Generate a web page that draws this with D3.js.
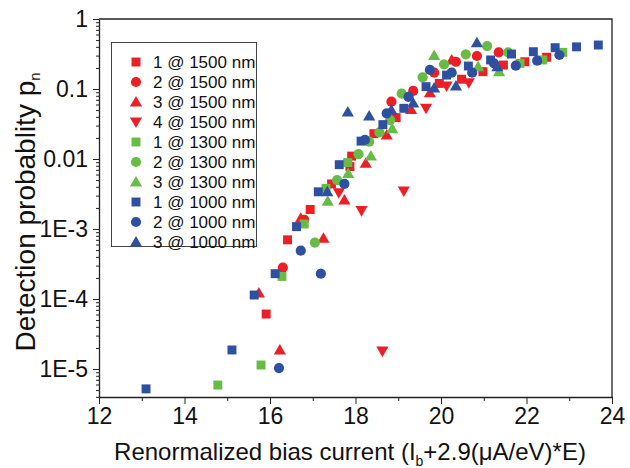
<!DOCTYPE html>
<html>
<head>
<meta charset="utf-8">
<script src="https://cdn.jsdelivr.net/npm/d3@7"></script>
<style>
    body { margin: 0; background: #fff; }
    svg { font-family: "Liberation Sans", Arial, sans-serif; }
</style>
</head>
<body>
<div id="chart"></div>
<script>
// series: [renormalized bias current, detection probability]
var sq1500 = [[15.91, 6.1e-5], [16.41, 7.0e-4], [16.94, 1.9e-3], [17.44, 4.4e-3], [17.87, 7.8e-3], [17.91, 0.011],
    [18.43, 0.023], [18.95, 0.039], [19.96, 0.12], [20.48, 0.138], [20.98, 0.177], [21.46, 0.22], [21.96, 0.245], [22.47, 0.284]];
var ci1500 = [[16.30, 2.8e-4], [16.80, 1.35e-3], [18.84, 0.066], [19.35, 0.094], [19.84, 0.171], [20.35, 0.245],
    [20.84, 0.296], [21.35, 0.334]];
var tr1500 = [[15.74, 1.22e-4], [16.23, 1.87e-5], [16.72, 1.42e-3], [17.25, 7.4e-4], [17.74, 2.6e-3], [18.24, 8.7e-3],
    [18.73, 0.022], [19.30, 0.051], [19.74, 0.0885], [20.25, 0.26]];
var dn1500 = [[17.61, 3.3e-3], [18.14, 1.83e-3], [18.63, 1.8e-5], [19.13, 3.5e-3], [19.65, 0.053], [20.13, 0.11], [20.65, 0.123]];
var sq1300 = [[14.78, 5.9e-6], [15.79, 1.14e-5], [16.28, 2.1e-4], [16.80, 1.18e-3], [17.31, 3.8e-3], [17.82, 8.9e-3],
    [21.85, 0.233], [22.38, 0.26], [22.85, 0.334]];
var ci1300 = [[17.05, 6.4e-4], [17.57, 5.0e-3], [18.07, 0.0117], [18.32, 0.0177], [18.56, 0.024], [18.81, 0.036],
    [19.08, 0.086], [19.57, 0.147], [20.07, 0.225], [20.58, 0.313], [21.08, 0.41], [21.57, 0.334]];
var tr1300 = [[17.35, 2.5e-3], [17.83, 6.2e-3], [18.36, 0.011], [18.86, 0.027], [19.84, 0.30], [20.87, 0.208], [21.36, 0.177]];
var sq1000 = [[13.10, 5.2e-6], [15.11, 1.87e-5], [15.63, 1.14e-4], [16.12, 2.3e-4], [16.62, 1.08e-3], [17.13, 3.4e-3],
    [17.62, 8.3e-3], [18.13, 0.018], [18.64, 0.031], [19.13, 0.053], [19.65, 0.108], [20.13, 0.158], [20.64, 0.213],
    [21.16, 0.26], [21.65, 0.316], [22.16, 0.341], [22.67, 0.389], [23.17, 0.40], [23.68, 0.425]];
var ci1000 = [[16.21, 1.03e-5], [16.72, 4.9e-4], [17.19, 2.3e-4], [17.74, 4.4e-3], [18.22, 0.0187], [18.73, 0.045],
    [19.24, 0.077], [19.74, 0.187], [20.25, 0.171], [20.73, 0.171], [21.24, 0.233], [21.75, 0.215], [22.25, 0.254], [22.77, 0.306]];
var tr1000 = [[17.34, 3.4e-3], [17.82, 0.047], [18.32, 0.041], [18.84, 0.050], [19.35, 0.063], [19.84, 0.103],
    [20.35, 0.110], [20.84, 0.458], [21.32, 0.208]];

var legendNames = ['1 @ 1500 nm', '2 @ 1500 nm', '3 @ 1500 nm', '4 @ 1500 nm', '1 @ 1300 nm', '2 @ 1300 nm',
    '3 @ 1300 nm', '1 @ 1000 nm', '2 @ 1000 nm', '3 @ 1000 nm'];
var xTicks = [12, 14, 16, 18, 20, 22, 24];
var yTicks = [1, 0.1, 0.01, 1e-3, 1e-4, 1e-5];
var yTickLabels = ['1', '0.1', '0.01', '1E-3', '1E-4', '1E-5'];

var red = '#ec1f26', green = '#68bc45', blue = '#2f4fa0';
var series = [
    {data: sq1500, color: red, shape: 'square'},
    {data: ci1500, color: red, shape: 'circle'},
    {data: tr1500, color: red, shape: 'up'},
    {data: dn1500, color: red, shape: 'down'},
    {data: sq1300, color: green, shape: 'square'},
    {data: ci1300, color: green, shape: 'circle'},
    {data: tr1300, color: green, shape: 'up'},
    {data: sq1000, color: blue, shape: 'square'},
    {data: ci1000, color: blue, shape: 'circle'},
    {data: tr1000, color: blue, shape: 'up'}
];

var w = 630, h = 468;
var pl = 99, pr = 612, pt = 19, pb = 397;

var svg = d3.select('#chart').append('svg')
    .attr('width', w)
    .attr('height', h)
;

var xscale = d3.scaleLinear()
    .domain([12, 24])
    .range([pl, pr]);

var yscale = d3.scaleLog()
    .domain([Math.pow(10, -5.4), 1])
    .range([pb, pt]);

function symbolPath(shape) {
    var t = d3.symbolSquare, size = 80;
    if (shape === 'circle') { t = d3.symbolCircle; size = 82; }
    if (shape === 'up' || shape === 'down') { t = d3.symbolTriangle; size = 64; }
    return d3.symbol().type(t).size(size)();
}

function place(shape, x, y) {
    var tr = 'translate(' + x + ',' + y + ')';
    if (shape === 'up') tr += ' translate(0,1)';
    if (shape === 'down') tr += ' rotate(180) translate(0,1)';
    return tr;
}

// minor ticks
var yMinor = [];
for (var e = -6; e < 0; e++) {
    for (var m = 2; m <= 9; m++) {
        var v = m * Math.pow(10, e);
        if (v >= Math.pow(10, -5.4) && v < 1) yMinor.push(v);
    }
}
var xMinor = [13, 15, 17, 19, 21, 23];

svg.append('g')
    .attr('transform', 'translate(' + pl + ',0)')
    .call(d3.axisLeft(yscale).tickValues(yMinor).tickSize(3).tickFormat(''))
    .call(function (g) { g.select('.domain').remove(); })
;
svg.append('g')
    .attr('class', 'yaxis')
    .attr('transform', 'translate(' + pl + ',0)')
    .call(d3.axisLeft(yscale).tickValues(yTicks).tickSize(6).tickSizeOuter(0)
        .tickFormat(function (d, i) { return yTickLabels[i]; }))
;
svg.append('g')
    .attr('transform', 'translate(0,' + pb + ')')
    .call(d3.axisBottom(xscale).tickValues(xMinor).tickSize(4).tickFormat(''))
    .call(function (g) { g.select('.domain').remove(); })
;
svg.append('g')
    .attr('class', 'xaxis')
    .attr('transform', 'translate(0,' + pb + ')')
    .call(d3.axisBottom(xscale).tickValues(xTicks).tickSize(7).tickSizeOuter(0).tickFormat(d3.format('d')))
;

svg.selectAll('.tick line').attr('stroke', '#222');
svg.selectAll('.domain').attr('stroke', '#222').attr('stroke-width', 1.3);
svg.select('.yaxis').selectAll('text')
    .attr('font-size', '23px')
    .attr('fill', '#111')
    .attr('x', -11)
;
svg.select('.xaxis').selectAll('text')
    .attr('font-size', '23px')
    .attr('fill', '#111')
    .attr('y', 11)
;

// frame top + right
svg.append('path')
    .attr('d', 'M' + pl + ',' + pt + 'H' + pr + 'V' + pb)
    .attr('fill', 'none')
    .attr('stroke', '#222')
    .attr('stroke-width', 1.3)
;

// points
series.forEach(function (s) {
    svg.append('g').selectAll('path')
        .data(s.data)
        .enter()
        .append('path')
        .attr('d', symbolPath(s.shape))
        .attr('transform', function (d) { return place(s.shape, xscale(d[0]), yscale(d[1])); })
        .attr('fill', s.color)
    ;
});

// legend
var lg = svg.append('g');
lg.append('rect')
    .attr('x', 111.5)
    .attr('y', 42.5)
    .attr('width', 145)
    .attr('height', 204)
    .attr('fill', '#fff')
    .attr('stroke', '#444')
    .attr('stroke-width', 1)
;
series.forEach(function (s, i) {
    var yy = 62 + i * 20;
    lg.append('path')
        .attr('d', symbolPath(s.shape))
        .attr('transform', place(s.shape, 136, yy))
        .attr('fill', s.color);
    lg.append('text')
        .text(legendNames[i])
        .attr('x', 153)
        .attr('y', yy + 6)
        .attr('font-size', '17px')
        .attr('fill', '#111');
});

// axis titles
var yt = svg.append('text')
    .attr('transform', 'translate(35,212) rotate(-90)')
    .attr('text-anchor', 'middle')
    .attr('font-size', '28px')
    .attr('fill', '#111')
;
yt.append('tspan').text('Detection probablity p');
yt.append('tspan').text('n').attr('font-size', '15px').attr('dy', 5);

var xt = svg.append('text')
    .attr('x', 350)
    .attr('y', 460)
    .attr('text-anchor', 'middle')
    .attr('font-size', '24px')
    .attr('fill', '#111')
;
xt.append('tspan').text('Renormalized bias current (I');
xt.append('tspan').text('b').attr('font-size', '14px').attr('dy', 6);
xt.append('tspan').text('+2.9(\u03bcA/eV)*E)').attr('dy', -6);
</script>
</body>
</html>
